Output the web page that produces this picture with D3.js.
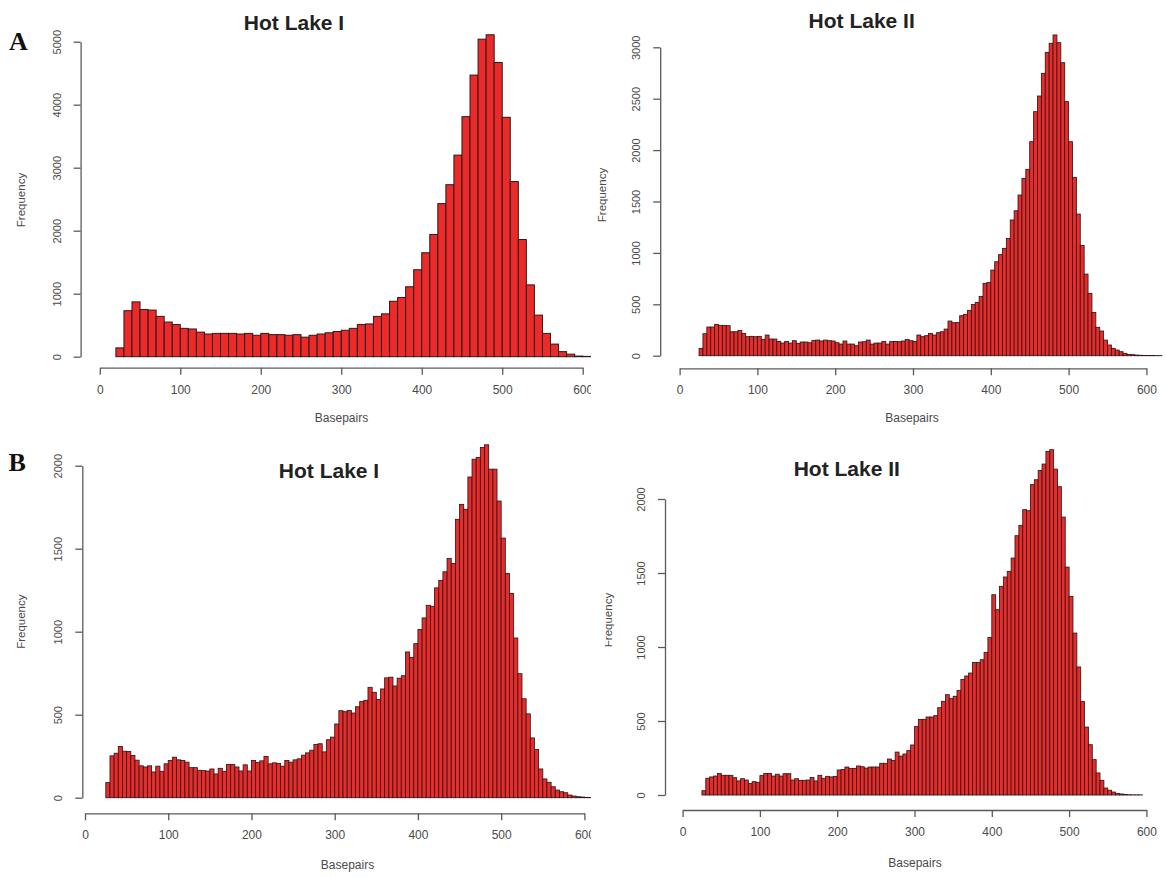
<!DOCTYPE html>
<html><head><meta charset="utf-8">
<script src="https://cdn.jsdelivr.net/npm/d3@7/dist/d3.min.js"></script>
<style>
body{margin:0;background:#fff}
svg{display:block}
text{font-family:"Liberation Sans",Arial,Helvetica,sans-serif}
</style>
</head><body>
<svg id="chart" width="1165" height="877"></svg>
<script>
// ---------------- DATA ----------------
const panelTitles = ["Hot Lake I", "Hot Lake II", "Hot Lake I", "Hot Lake II"];
const panelLetters = ["A", "B"];
const xLabel = "Basepairs";
const yLabel = "Frequency";
const xTicks = [0, 100, 200, 300, 400, 500, 600];
const yTicksA1 = [0, 1000, 2000, 3000, 4000, 5000];
const yTicksA2 = [0, 500, 1000, 1500, 2000, 2500, 3000];
const yTicksB = [0, 500, 1000, 1500, 2000];

// Panel A, Hot Lake I : bins of 10 bp starting at 20 bp
const binStartA1 = 20, binWidthA1 = 10;
const countsA1 = [140, 730, 870, 750, 740, 640, 550, 510, 450, 440,
  390, 360, 370, 370, 370, 360, 370, 340, 370, 350,
  350, 340, 350, 310, 340, 360, 380, 400, 420, 450,
  510, 520, 640, 680, 880, 940, 1110, 1380, 1650, 1940,
  2430, 2730, 3200, 3810, 4470, 5040, 5110, 4670, 3800, 2780,
  1860, 1140, 660, 370, 200, 80, 40, 10, 5];

// Panel A, Hot Lake II : bins of 5 bp starting at 25 bp
const binStartA2 = 25, binWidthA2 = 5;
const countsA2 = [71, 214, 279, 279, 305, 295, 295, 292, 233, 233,
  246, 217, 185, 188, 185, 188, 159, 201, 162, 162,
  139, 123, 139, 123, 146, 120, 133, 133, 126, 149,
  152, 143, 152, 146, 143, 126, 113, 143, 113, 113,
  97, 133, 136, 152, 113, 123, 123, 139, 113, 139,
  139, 136, 143, 159, 146, 139, 201, 185, 195, 217,
  201, 224, 233, 259, 337, 321, 324, 389, 402, 441,
  499, 519, 577, 704, 713, 833, 914, 983, 1044, 1141,
  1320, 1410, 1563, 1725, 1813, 2082, 2374, 2526, 2747, 2951,
  3039, 3120, 3045, 2850, 2471, 2082, 1735, 1378, 1073, 794,
  606, 421, 276, 240, 152, 104, 71, 55, 39, 23,
  13, 10, 6, 4, 3, 2, 2, 1, 1];

// Panel B, Hot Lake I : bins of 5 bp starting at 25 bp
const binStartB1 = 25, binWidthB1 = 5;
const countsB1 = [91, 252, 268, 308, 280, 278, 254, 226, 192, 185,
  192, 155, 190, 159, 204, 224, 244, 228, 224, 214,
  181, 181, 165, 163, 161, 173, 143, 177, 159, 200,
  200, 185, 161, 198, 161, 224, 212, 222, 248, 204,
  210, 206, 190, 224, 214, 228, 234, 256, 270, 286,
  321, 325, 276, 349, 365, 444, 524, 518, 526, 510,
  548, 579, 587, 665, 635, 591, 655, 722, 726, 673,
  720, 735, 878, 845, 928, 1013, 1083, 1159, 1153, 1264,
  1308, 1361, 1441, 1411, 1677, 1767, 1737, 1932, 2039, 2049,
  2110, 2126, 1979, 1979, 1787, 1564, 1351, 1230, 962, 747,
  596, 505, 360, 290, 173, 113, 93, 66, 46, 36,
  30, 16, 10, 6, 4, 2, 1];

// Panel B, Hot Lake II : bins of 5 bp starting at 25 bp
const binStartB2 = 25, binWidthB2 = 5;
const countsB2 = [29, 113, 122, 128, 146, 133, 133, 133, 117, 95,
  110, 101, 77, 90, 86, 131, 146, 146, 128, 140,
  128, 144, 144, 101, 110, 99, 99, 101, 119, 95,
  133, 113, 126, 122, 126, 169, 173, 189, 180, 180,
  196, 191, 182, 189, 189, 189, 214, 214, 243, 234,
  290, 263, 277, 300, 338, 462, 511, 511, 527, 527,
  536, 590, 633, 678, 651, 667, 707, 780, 804, 824,
  896, 896, 914, 964, 1065, 1353, 1252, 1410, 1473, 1511,
  1601, 1752, 1822, 1928, 1921, 2097, 2130, 2193, 2236, 2322,
  2333, 2202, 2083, 1878, 1540, 1342, 1094, 865, 631, 459,
  340, 239, 149, 99, 47, 32, 20, 11, 7, 4,
  2, 1, 1, 1];

// ---------------- LAYOUT ----------------
const panels = [
  { title: panelTitles[0], letter: panelLetters[0], counts: countsA1, start: binStartA1, width: binWidthA1,
    yTicks: yTicksA1, bg: null,
    xr: [99.8, 582.7], yr: [356.7, 41.7], yAxisX: 80.6, xAxisY: 367.7,
    titlePos: [294, 30], xLabPos: [341.5, 421.5], yLabPos: [21, 200], letterPos: [9, 50] },
  { title: panelTitles[1], letter: null, counts: countsA2, start: binStartA2, width: binWidthA2,
    yTicks: yTicksA2, bg: [591, 0, 574, 430],
    xr: [679.6, 1146.4], yr: [355.7, 47.3], yAxisX: 660.2, xAxisY: 368.3,
    titlePos: [861.7, 27.5], xLabPos: [912, 421.5], yLabPos: [601.6, 195] },
  { title: panelTitles[2], letter: panelLetters[1], counts: countsB1, start: binStartB1, width: binWidthB1,
    yTicks: yTicksB, bg: null,
    xr: [85, 584.4], yr: [797.7, 465.7], yAxisX: 82.3, xAxisY: 813.3,
    titlePos: [329, 477.5], xLabPos: [347.5, 869], yLabPos: [21, 621.7], letterPos: [8.5, 471] },
  { title: panelTitles[3], letter: null, counts: countsB2, start: binStartB2, width: binWidthB2,
    yTicks: yTicksB, bg: [591, 430, 574, 447],
    xr: [682.6, 1146.4], yr: [795, 499], yAxisX: 665, xAxisY: 810,
    titlePos: [846.8, 475.5], xLabPos: [915, 867], yLabPos: [607.5, 620], clipYLab: [605, 560, 20, 130] }
];

const svg = d3.select("#chart");
svg.append("rect").attr("width", 1165).attr("height", 877).attr("fill", "#fff");
const defs = svg.append("defs");

const axisColor = "#5a5a5a";
const textColor = "#4a4a4a";

panels.forEach((p, pi) => {
  const g = svg.append("g");
  if (p.bg) {
    g.append("rect").attr("x", p.bg[0]).attr("y", p.bg[1]).attr("width", p.bg[2]).attr("height", p.bg[3]).attr("fill", "#fff");
  }
  const x = d3.scaleLinear().domain([0, 600]).range(p.xr);
  const y = d3.scaleLinear().domain([0, d3.max(p.yTicks)]).range(p.yr);

  // bars
  const bins = p.counts.map((v, i) => ({ x0: p.start + i * p.width, x1: p.start + (i + 1) * p.width, v }));
  g.append("g").selectAll("rect").data(bins).join("rect")
    .attr("x", d => x(d.x0))
    .attr("width", d => x(d.x1) - x(d.x0))
    .attr("y", d => y(d.v))
    .attr("height", d => y(0) - y(d.v))
    .attr("fill", "#ec2a2a")
    .attr("stroke", "#2b1a1a")
    .attr("stroke-width", p.width === 10 ? 1 : 0.85);

  // y axis
  const ya = g.append("g").attr("transform", `translate(${p.yAxisX},0)`)
    .call(d3.axisLeft(y).tickValues(p.yTicks).tickSize(7).tickSizeOuter(0).tickFormat(d3.format("d")));
  ya.select(".domain").attr("stroke", axisColor).attr("stroke-width", 1.3);
  ya.selectAll(".tick line").attr("stroke", axisColor).attr("stroke-width", 1.3);
  ya.selectAll(".tick text")
    .attr("transform", "rotate(-90)")
    .attr("x", 0).attr("y", -20).attr("dy", 0)
    .attr("text-anchor", "middle")
    .attr("fill", textColor)
    .style("font-size", "11px")
    .style("font-family", '"Liberation Sans",Arial,sans-serif');

  // x axis
  const xa = g.append("g").attr("transform", `translate(0,${p.xAxisY})`)
    .call(d3.axisBottom(x).tickValues(xTicks).tickSize(7).tickSizeOuter(0).tickFormat(d3.format("d")));
  xa.select(".domain").attr("stroke", axisColor).attr("stroke-width", 1.3);
  xa.selectAll(".tick line").attr("stroke", axisColor).attr("stroke-width", 1.3);
  xa.selectAll(".tick text")
    .attr("y", 26).attr("dy", 0)
    .attr("fill", textColor)
    .style("font-size", "12px")
    .style("font-family", '"Liberation Sans",Arial,sans-serif');

  // title
  g.append("text").attr("x", p.titlePos[0]).attr("y", p.titlePos[1])
    .attr("text-anchor", "middle").attr("font-weight", "bold")
    .attr("font-size", 21).attr("fill", "#222").text(p.title);

  // axis labels
  g.append("text").attr("x", p.xLabPos[0]).attr("y", p.xLabPos[1])
    .attr("text-anchor", "middle").attr("font-size", 12).attr("fill", textColor).text(xLabel);
  const ylg = g.append("g");
  ylg.append("text")
    .attr("transform", `translate(${p.yLabPos[0] + 4},${p.yLabPos[1]}) rotate(-90)`)
    .attr("text-anchor", "middle").attr("font-size", 11.5).attr("fill", textColor).text(yLabel);
  if (p.clipYLab) {
    const id = "clipY" + pi;
    defs.append("clipPath").attr("id", id).append("rect")
      .attr("x", p.clipYLab[0]).attr("y", p.clipYLab[1]).attr("width", p.clipYLab[2]).attr("height", p.clipYLab[3]);
    ylg.attr("clip-path", `url(#${id})`);
  }

  if (p.letter) {
    g.append("text").attr("x", p.letterPos[0]).attr("y", p.letterPos[1])
      .style("font-family", '"Liberation Serif","Times New Roman",serif')
      .attr("font-weight", "bold").attr("font-size", 26).attr("fill", "#111").text(p.letter);
  }
});
</script>
</body></html>
